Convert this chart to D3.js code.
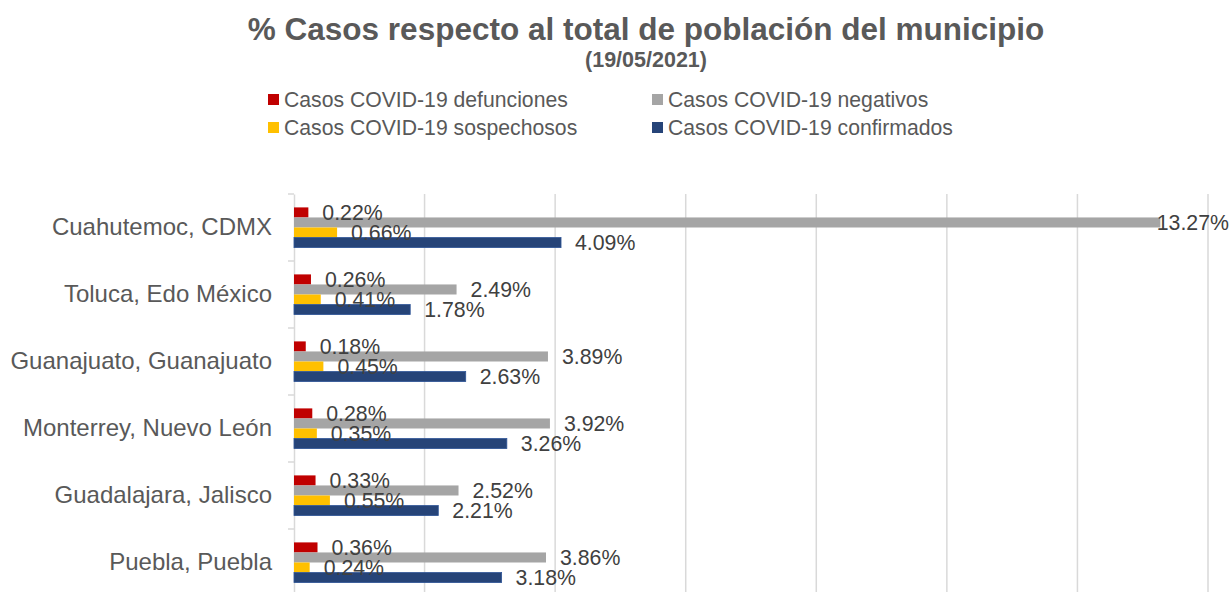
<!DOCTYPE html>
<html>
<head>
<meta charset="utf-8">
<script src="https://cdn.jsdelivr.net/npm/d3@7"></script>
<style>
  body { margin: 0; background: #fff; }
  svg { display: block; font-family: "Liberation Sans", Arial, sans-serif; }
</style>
</head>
<body>
<div id="chart"></div>
<script>
// categories, top to bottom
var municipios = ["Cuahutemoc, CDMX", "Toluca, Edo México", "Guanajuato, Guanajuato",
                  "Monterrey, Nuevo León", "Guadalajara, Jalisco", "Puebla, Puebla"];

// series (% of population)
var defunciones = [0.22, 0.26, 0.18, 0.28, 0.33, 0.36];
var negativos   = [13.27, 2.49, 3.89, 3.92, 2.52, 3.86];
var sospechosos = [0.66, 0.41, 0.45, 0.35, 0.55, 0.24];
var confirmados = [4.09, 1.78, 2.63, 3.26, 2.21, 3.18];

var seriesNames = ["Casos COVID-19 defunciones", "Casos COVID-19 negativos",
                   "Casos COVID-19 sospechosos", "Casos COVID-19 confirmados"];
var seriesColors = ["#C00000", "#A5A5A5", "#FFC000", "#264478"];
var seriesValues = [defunciones, negativos, sospechosos, confirmados];

var xTicks = [0, 2, 4, 6, 8, 10, 12, 14];

var width = 1232, height = 592;
var plot = {left: 294, right: 1208, top: 194, bottom: 596};

var svg = d3.select("#chart").append("svg")
    .attr("width", width)
    .attr("height", height);

// scales
var x = d3.scaleLinear().domain([0, 14]).range([plot.left, plot.right]);
var y = d3.scaleBand().domain(municipios).range([plot.top, plot.bottom])
    .paddingInner(0.4).paddingOuter(0.2);
var ySub = d3.scaleBand().domain(d3.range(seriesNames.length)).range([0, y.bandwidth()]);

// title
svg.append("text")
    .attr("x", 646).attr("y", 40)
    .attr("text-anchor", "middle")
    .style("font-size", "31.5px").style("font-weight", "bold").style("fill", "#595959")
    .text("% Casos respecto al total de población del municipio");
svg.append("text")
    .attr("x", 646).attr("y", 67)
    .attr("text-anchor", "middle")
    .style("font-size", "21.5px").style("font-weight", "bold").style("fill", "#595959")
    .text("(19/05/2021)");

// legend
var legendPos = [[268, 100], [652, 100], [268, 128], [652, 128]];
var legend = svg.append("g").selectAll("g")
    .data(seriesNames)
    .join("g")
    .attr("transform", (d, i) => "translate(" + legendPos[i][0] + "," + legendPos[i][1] + ")");
legend.append("rect")
    .attr("x", 0).attr("y", -6).attr("width", 11).attr("height", 11)
    .attr("fill", (d, i) => seriesColors[i]);
legend.append("text")
    .attr("x", 16).attr("dy", "0.35em")
    .style("font-size", "21.2px").style("fill", "#595959")
    .text(d => d);

// gridlines
svg.append("g")
    .selectAll("line")
    .data(xTicks.slice(1))
    .join("line")
    .attr("x1", d => x(d)).attr("x2", d => x(d))
    .attr("y1", plot.top).attr("y2", plot.bottom)
    .attr("stroke", "#D9D9D9").attr("stroke-width", 1.5);

// category axis
var yAxis = d3.axisLeft(y).tickSize(0).tickPadding(22);
var gy = svg.append("g")
    .attr("transform", "translate(" + plot.left + ",0)")
    .call(yAxis);
gy.select(".domain").attr("stroke", "#D9D9D9").attr("stroke-width", 1.5);
gy.selectAll("text")
    .style("font-size", "24px").style("fill", "#595959")
    .style("font-family", "'Liberation Sans', Arial, sans-serif");

// tick marks between categories
var boundaries = municipios.map((d, i) => plot.top + i * y.step()).concat([plot.bottom]);
svg.append("g")
    .selectAll("line")
    .data(boundaries)
    .join("line")
    .attr("x1", plot.left - 6).attr("x2", plot.left)
    .attr("y1", d => d).attr("y2", d => d)
    .attr("stroke", "#D9D9D9").attr("stroke-width", 1.5);

// bars
var rows = [];
municipios.forEach(function(m, i) {
  seriesValues.forEach(function(vals, s) {
    rows.push({municipio: m, serie: s, value: vals[i]});
  });
});

var bars = svg.append("g");
bars.selectAll("rect")
    .data(rows)
    .join("rect")
    .attr("x", x(0))
    .attr("y", d => y(d.municipio) + ySub(d.serie))
    .attr("width", d => x(d.value) - x(0))
    .attr("height", ySub.bandwidth())
    .attr("fill", d => seriesColors[d.serie])
    .attr("stroke", d => d.serie === 3 ? "#2F5597" : "none")
    .attr("stroke-width", 0.8);

// data labels (they overlap in the original too)
bars.selectAll("text")
    .data(rows)
    .join("text")
    .attr("y", d => y(d.municipio) + ySub(d.serie) + ySub.bandwidth() / 2)
    .attr("dy", "0.35em")
    .style("font-size", "21.3px").style("fill", "#404040")
    .text(d => d.value.toFixed(2) + "%")
    .attr("x", function(d) {
      var w = this.getComputedTextLength();
      return Math.min(x(d.value) + 14, width - 3 - w);
    });
</script>
</body>
</html>
